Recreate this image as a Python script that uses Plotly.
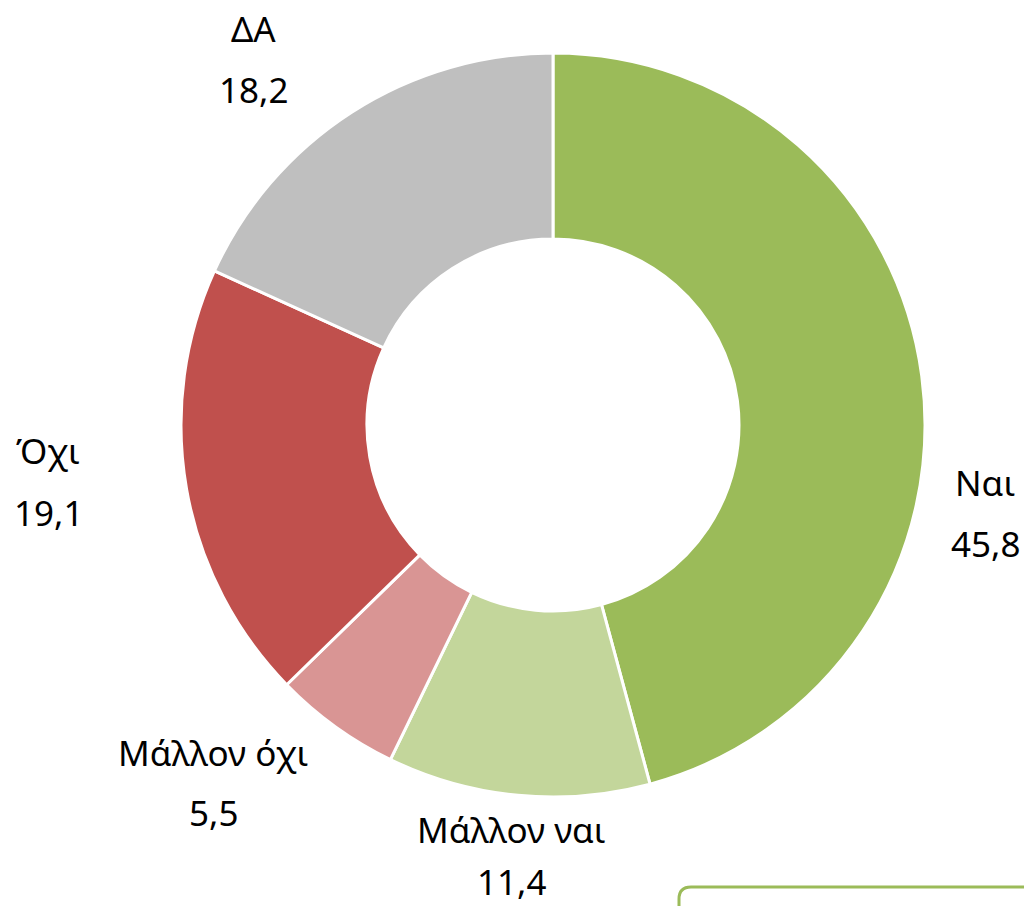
import plotly.graph_objects as go

W, H = 1024, 906

labels = ["Ναι", "Μάλλον ναι", "Μάλλον όχι", "Όχι", "ΔΑ"]
values = [45.8, 11.4, 5.5, 19.1, 18.2]
value_text = ["45,8", "11,4", "5,5", "19,1", "18,2"]
colors = ["#9BBB59", "#C3D69B", "#D99594", "#C0504D", "#BFBFBF"]

# label centres in pixels: (x, name_y, value_y)
label_pos = [(985, 483, 543), (511, 829, 881), (213, 752, 812), (48, 450, 512), (253, 28, 90)]

def px(x):
    return x / W

def py(y):
    return 1 - y / H

fig = go.Figure(go.Pie(
    labels=labels,
    values=values,
    marker=dict(colors=colors, line=dict(color="white", width=3)),
    hole=0.5,
    sort=False,
    direction="clockwise",
    rotation=0,
    textinfo="none",
    hoverinfo="label+value",
    showlegend=False,
    domain=dict(x=[px(181), px(925)], y=[py(797), py(53)]),
))

font = dict(family="Noto Sans, Open Sans, DejaVu Sans", size=35, color="#000000")
annotations = []
for lab, vt, (x, ny, vy) in zip(labels, value_text, label_pos):
    annotations.append(dict(text=lab, x=px(x), y=py(ny), xref="paper", yref="paper",
                            xanchor="center", yanchor="middle", showarrow=False, font=font))
    annotations.append(dict(text=vt, x=px(x), y=py(vy), xref="paper", yref="paper",
                            xanchor="center", yanchor="middle", showarrow=False, font=font))

# rounded box at bottom-right
x0, y0, r = 679, 887, 12
path = (f"M {px(x0)},{py(H+10)} L {px(x0)},{py(y0+r)} "
        f"Q {px(x0)},{py(y0)} {px(x0+r)},{py(y0)} L {px(W+20)},{py(y0)}")

fig.update_layout(
    width=W, height=H,
    margin=dict(l=0, r=0, t=0, b=0),
    paper_bgcolor="white", plot_bgcolor="white",
    annotations=annotations,
    shapes=[dict(type="path", path=path, xref="paper", yref="paper",
                 line=dict(color="#9BBB59", width=3))],
)

fig.write_html("out.html",
               config={"displayModeBar": False},
               post_script="document.body.style.margin='0';document.body.style.overflow='hidden';")
